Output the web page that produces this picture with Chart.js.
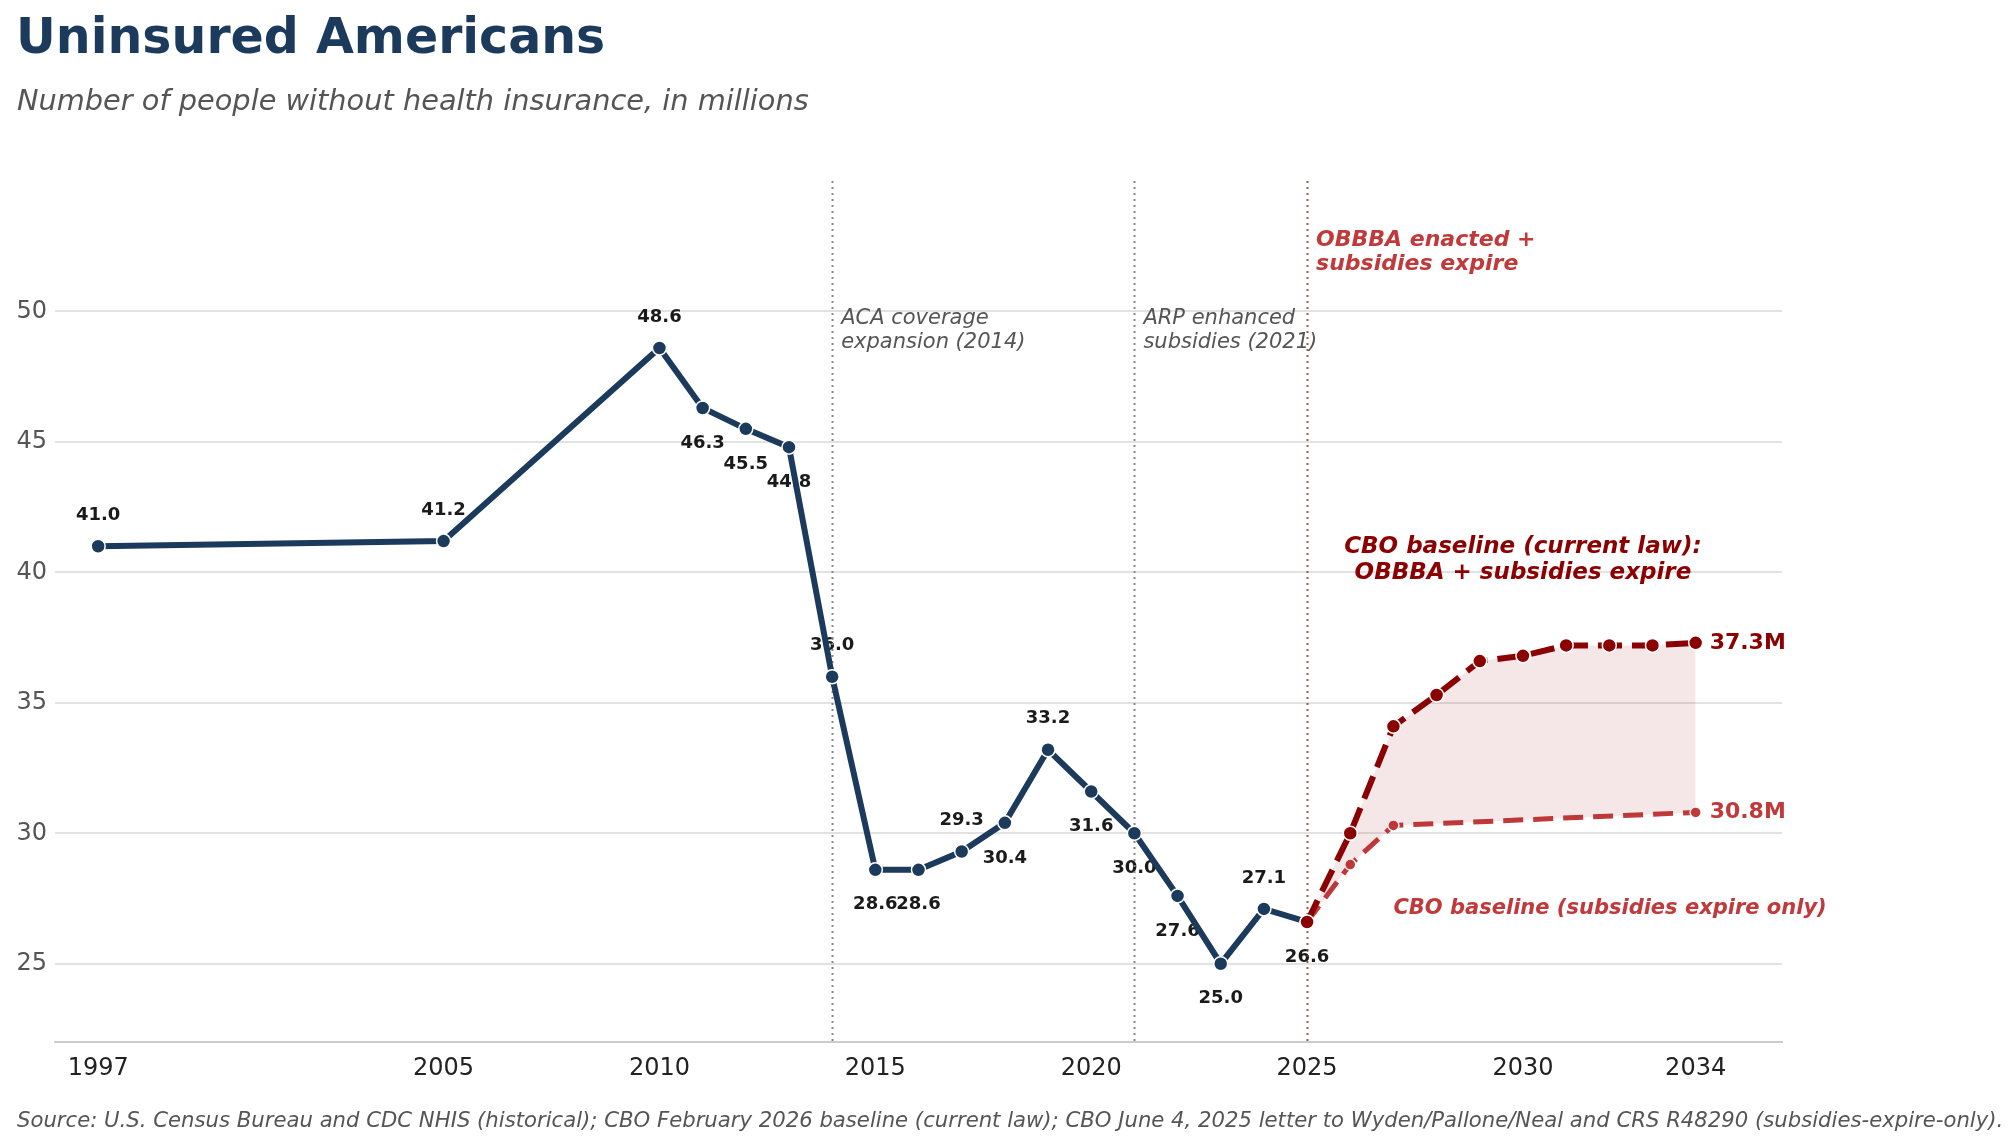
<!DOCTYPE html>
<html>
<head>
<meta charset="utf-8">
<script src="https://cdn.jsdelivr.net/npm/chart.js@4/dist/chart.umd.min.js"></script>
<style>
  body { margin: 0; background: #ffffff; }
  #wrap { width: 2013px; height: 1148px; }
</style>
</head>
<body>
<div id="wrap"><canvas id="uninsuredChart" width="2013" height="1148"></canvas></div>
<script>
// datos historicos (Census / NHIS), en millones
const histYears = [1997, 2005, 2010, 2011, 2012, 2013, 2014, 2015, 2016, 2017, 2018, 2019, 2020, 2021, 2022, 2023, 2024, 2025];
const histValues = [41.0, 41.2, 48.6, 46.3, 45.5, 44.8, 36.0, 28.6, 28.6, 29.3, 30.4, 33.2, 31.6, 30.0, 27.6, 25.0, 27.1, 26.6];
// lado de la etiqueta de cada punto historico
const histLabelSide = ['up', 'up', 'up', 'down', 'down', 'down', 'up', 'down', 'down', 'up', 'down', 'up', 'down', 'down', 'down', 'down', 'up', 'down'];

// proyeccion CBO, ley actual (OBBBA + subsidios expiran)
const cboYears = [2025, 2026, 2027, 2028, 2029, 2030, 2031, 2032, 2033, 2034];
const cboValues = [26.6, 30.0, 34.1, 35.3, 36.6, 36.8, 37.2, 37.2, 37.2, 37.3];

// proyeccion CBO, solo expiran los subsidios
const subsYears = [2025, 2026, 2027, 2034];
const subsValues = [26.6, 28.8, 30.3, 30.8];

const xTickValues = [1997, 2005, 2010, 2015, 2020, 2025, 2030, 2034];
const yTickValues = [25, 30, 35, 40, 45, 50];

const policyLines = [
    { year: 2014, text: ['ACA coverage', 'expansion (2014)'] },
    { year: 2021, text: ['ARP enhanced', 'subsidies (2021)'] },
    { year: 2025, text: ['OBBBA enacted +', 'subsidies expire'] }
];

const NAVY = '#1b3a5c';
const DARK_RED = '#8b0000';
const RED = '#c0393b';
const FONT = '"DejaVu Sans", sans-serif';

const toPoints = (xs, ys) => xs.map((x, i) => ({ x: x, y: ys[i] }));

// Titulos, notas y etiquetas dibujadas a mano
const annotations = {
    id: 'annotations',
    beforeDatasetsDraw(chart) {
        const ctx = chart.ctx;
        const xs = chart.scales.x;
        const ys = chart.scales.y;
        const area = chart.chartArea;
        ctx.save();

        // textos de las lineas verticales
        ctx.textAlign = 'left';
        ctx.textBaseline = 'top';
        policyLines.forEach((p, i) => {
            const px = xs.getPixelForValue(p.year) + 9;
            if (i < 2) {
                ctx.font = 'italic 21px ' + FONT;
                ctx.fillStyle = '#555555';
                const top = ys.getPixelForValue(50) - 3;
                p.text.forEach((t, j) => ctx.fillText(t, px, top + j * 24));
            } else {
                ctx.font = 'italic bold 22px ' + FONT;
                ctx.fillStyle = RED;
                const top = ys.getPixelForValue(53) - 4;
                p.text.forEach((t, j) => ctx.fillText(t, px, top + j * 24));
            }
        });

        // etiquetas de los puntos historicos (debajo de la linea)
        ctx.font = 'bold 18px ' + FONT;
        ctx.fillStyle = '#1a1a1a';
        ctx.textAlign = 'center';
        ctx.textBaseline = 'middle';
        histYears.forEach((yr, i) => {
            const px = xs.getPixelForValue(yr);
            const py = ys.getPixelForValue(histValues[i]);
            const dy = histLabelSide[i] === 'up' ? -31 : 35;
            ctx.fillText(histValues[i].toFixed(1), px, py + dy);
        });

        // lineas verticales punteadas
        ctx.lineWidth = 2;
        ctx.setLineDash([2, 4]);
        policyLines.forEach((p, i) => {
            const px = Math.round(xs.getPixelForValue(p.year)) + 0.5;
            ctx.strokeStyle = i < 2 ? '#888888' : 'rgba(115, 55, 45, 0.8)';
            ctx.beginPath();
            ctx.moveTo(px, area.top);
            ctx.lineTo(px, area.bottom);
            ctx.stroke();
        });
        ctx.restore();
    },
    afterDatasetsDraw(chart) {
        const ctx = chart.ctx;
        const xs = chart.scales.x;
        const ys = chart.scales.y;
        ctx.save();

        // valores finales
        ctx.font = 'bold 22px ' + FONT;
        ctx.textAlign = 'left';
        ctx.textBaseline = 'middle';
        const lastCbo = cboValues[cboValues.length - 1];
        const lastSubs = subsValues[subsValues.length - 1];
        ctx.fillStyle = DARK_RED;
        ctx.fillText(lastCbo.toFixed(1) + 'M', xs.getPixelForValue(2034) + 14, ys.getPixelForValue(lastCbo));
        ctx.fillStyle = RED;
        ctx.fillText(lastSubs.toFixed(1) + 'M', xs.getPixelForValue(2034) + 14, ys.getPixelForValue(lastSubs));

        // nombres de los escenarios
        ctx.font = 'italic bold 23px ' + FONT;
        ctx.fillStyle = DARK_RED;
        ctx.textAlign = 'center';
        const cx = xs.getPixelForValue(2030);
        const cy = ys.getPixelForValue(40.35) - 3;
        ctx.fillText('CBO baseline (current law):', cx, cy - 13);
        ctx.fillText('OBBBA + subsidies expire', cx, cy + 13);

        ctx.font = 'italic bold 21px ' + FONT;
        ctx.fillStyle = RED;
        ctx.textAlign = 'left';
        ctx.fillText('CBO baseline (subsidies expire only)', xs.getPixelForValue(2027), ys.getPixelForValue(27) - 3);

        // titulo, subtitulo y fuente
        ctx.textBaseline = 'middle';
        ctx.font = 'bold 49px ' + FONT;
        ctx.fillStyle = NAVY;
        ctx.fillText('Uninsured Americans', 16, 40);
        ctx.font = 'italic 28.8px ' + FONT;
        ctx.fillStyle = '#555555';
        ctx.fillText('Number of people without health insurance, in millions', 17, 103);
        ctx.font = 'italic 21.2px ' + FONT;
        ctx.fillText('Source: U.S. Census Bureau and CDC NHIS (historical); CBO February 2026 baseline (current law); CBO June 4, 2025 letter to Wyden/Pallone/Neal and CRS R48290 (subsidies-expire-only).', 17, 1121);
        ctx.restore();
    }
};

const ctx = document.getElementById('uninsuredChart').getContext('2d');
const uninsuredChart = new Chart(ctx, {
    type: 'line',
    data: {
        datasets: [
            {
                label: 'CBO baseline (current law)',
                data: toPoints(cboYears, cboValues),
                borderColor: DARK_RED,
                borderWidth: 6,
                borderDash: [24, 10],
                pointRadius: 7,
                pointBackgroundColor: DARK_RED,
                pointBorderColor: '#ffffff',
                pointBorderWidth: 1.5,
                fill: { target: 1 },
                backgroundColor: 'rgba(160, 40, 40, 0.11)',
                order: 0
            },
            {
                label: 'CBO baseline (subsidies expire only)',
                data: toPoints(subsYears, subsValues),
                borderColor: RED,
                borderWidth: 5,
                borderDash: [20, 10],
                pointRadius: 5.5,
                pointBackgroundColor: RED,
                pointBorderColor: '#ffffff',
                pointBorderWidth: 1.5,
                fill: false,
                order: 1
            },
            {
                label: 'Historical',
                data: toPoints(histYears, histValues),
                borderColor: NAVY,
                borderWidth: 6,
                pointRadius: 7,
                pointBackgroundColor: NAVY,
                pointBorderColor: '#ffffff',
                pointBorderWidth: 1.5,
                fill: false,
                order: 2
            }
        ]
    },
    options: {
        responsive: false,
        devicePixelRatio: 1,
        animation: false,
        layout: { padding: { top: 181, right: 231, bottom: 0, left: 0 } },
        scales: {
            x: {
                type: 'linear',
                min: 1996,
                max: 2036,
                afterBuildTicks: (scale) => { scale.ticks = xTickValues.map(v => ({ value: v })); },
                afterFit: (scale) => { scale.height = 106; },
                grid: { display: false, drawTicks: false },
                border: { display: true, color: '#cccccc', width: 2 },
                ticks: {
                    color: '#222222',
                    font: { family: FONT, size: 24 },
                    padding: 12,
                    maxRotation: 0,
                    autoSkip: false,
                    callback: (v) => String(v)
                }
            },
            y: {
                min: 22,
                max: 55,
                afterBuildTicks: (scale) => { scale.ticks = yTickValues.map(v => ({ value: v })); },
                afterFit: (scale) => { scale.width = 55; },
                grid: { color: '#e2e2e2', lineWidth: 2, drawTicks: false },
                border: { display: false },
                ticks: {
                    color: '#555555',
                    font: { family: FONT, size: 24 },
                    padding: 8,
                    callback: (v) => String(v)
                }
            }
        },
        plugins: {
            legend: { display: false },
            title: { display: false },
            tooltip: { enabled: false }
        }
    },
    plugins: [annotations]
});
</script>
</body>
</html>
